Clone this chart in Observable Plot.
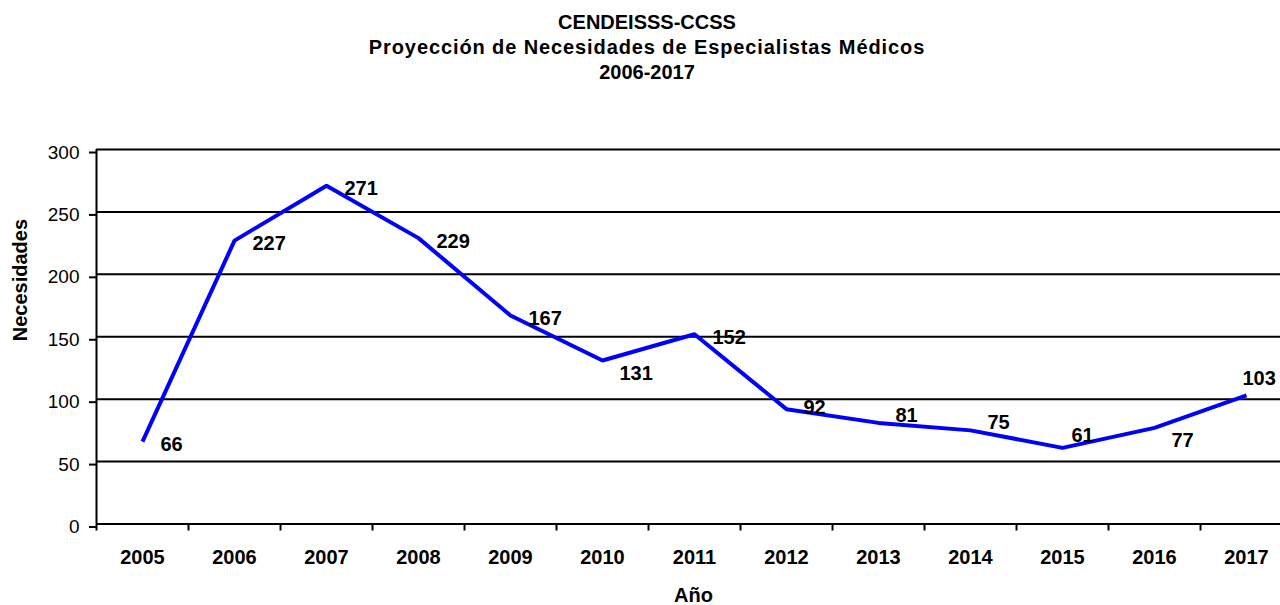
<!DOCTYPE html>
<html>
<head>
<meta charset="utf-8">
<script src="https://cdn.jsdelivr.net/npm/d3@7"></script>
<script src="https://cdn.jsdelivr.net/npm/@observablehq/plot@0.6"></script>
<style>
  html, body { margin: 0; padding: 0; background: #fff; }
  body { width: 1280px; height: 605px; overflow: hidden; font-family: Arial, "Liberation Sans", sans-serif; }
  #title { box-sizing: border-box; width: 1280px; height: 85px; padding: 10px 0 0 14px; text-align: center;
           font-weight: bold; font-size: 20px; line-height: 25px; color: #000; overflow: hidden; }
  #title .wide { letter-spacing: 0.9px; }
  #chart svg { display: block; }
</style>
</head>
<body>
<div id="title">
  <div>CENDEISSS-CCSS</div>
  <div class="wide">Proyección de Necesidades de Especialistas Médicos</div>
  <div>2006-2017</div>
</div>
<div id="chart"></div>
<script>
// ---- data ----
const years  = [2005, 2006, 2007, 2008, 2009, 2010, 2011, 2012, 2013, 2014, 2015, 2016, 2017];
const values = [66, 227, 271, 229, 167, 131, 152, 92, 81, 75, 61, 77, 103];
const yTicks = [0, 50, 100, 150, 200, 250, 300];
const xTitle = "Año";
const yTitle = "Necesidades";

const data = years.map((year, i) => ({year, value: values[i]}));

// label placement (as in the original, where some labels sit above/below the point)
const placement = {
  2005: "right", 2006: "right", 2007: "right", 2008: "right", 2009: "right", 2011: "right",
  2010: "below", 2016: "below",
  2012: "aboveSmall", 2013: "above", 2014: "above",
  2015: "aboveNear", 2017: "top"
};
const placeOpts = {
  right:      {dx: 18, dy: 3},
  below:      {dx: 17, dy: 13},
  aboveSmall: {dx: 17, dy: -1.5},
  above:      {dx: 17, dy: -7.5},
  aboveNear:  {dx: 9,  dy: -12},
  top:        {dx: -4, dy: -16.5}
};

const xDomain = [years[0] - 0.5, years[years.length - 1] + 0.5];
const boundaries = years.map(y => y - 0.5);
const font = 'Arial, "Liberation Sans", sans-serif';

const labelMarks = Object.entries(placeOpts).map(([key, o]) =>
  Plot.text(data.filter(d => placement[d.year] === key), {
    x: "year", y: "value", text: d => String(d.value),
    textAnchor: "start", lineAnchor: "middle",
    dx: o.dx, dy: o.dy, fontWeight: "bold", fontSize: 20, fill: "#000"
  })
);

const chart = Plot.plot({
  width: 1280,
  height: 520,
  marginTop: 64,
  marginBottom: 81.5,
  marginLeft: 96,
  marginRight: 0,
  style: {fontFamily: font, color: "#000", background: "#fff"},
  x: {type: "linear", domain: xDomain, range: [96, 1292]},
  y: {domain: [0, 300], range: [438.5, 64]},
  marks: [
    Plot.ruleY(yTicks, {stroke: "#000", strokeWidth: 2}),
    Plot.ruleX([xDomain[0]], {stroke: "#000", strokeWidth: 2}),
    Plot.axisY({ticks: yTicks, tickSize: 7, tickPadding: 10, fontSize: 19, dy: 3,
                strokeWidth: 2, label: null, tickFormat: d => String(d)}),
    Plot.axisX({ticks: boundaries, tickSize: 7, strokeWidth: 2, tickFormat: () => "", label: null}),
    Plot.axisX({ticks: years, tickSize: 0, tickPadding: 26, fontSize: 20, fontWeight: "bold",
                label: null, tickFormat: d => String(d)}),
    Plot.line(data, {x: "year", y: "value", stroke: "#0000ff", strokeWidth: 4,
                     strokeLinejoin: "miter", strokeLinecap: "butt"}),
    ...labelMarks,
    Plot.text([xTitle], {frameAnchor: "bottom", lineAnchor: "middle", dx: 5, dy: 71.5,
                         fontWeight: "bold", fontSize: 20, fill: "#000"}),
    Plot.text([yTitle], {frameAnchor: "left", lineAnchor: "middle", rotate: -90, dx: -76, dy: 4.5,
                         fontWeight: "bold", fontSize: 20, fill: "#000"})
  ]
});
document.getElementById("chart").appendChild(chart);
</script>
</body>
</html>
